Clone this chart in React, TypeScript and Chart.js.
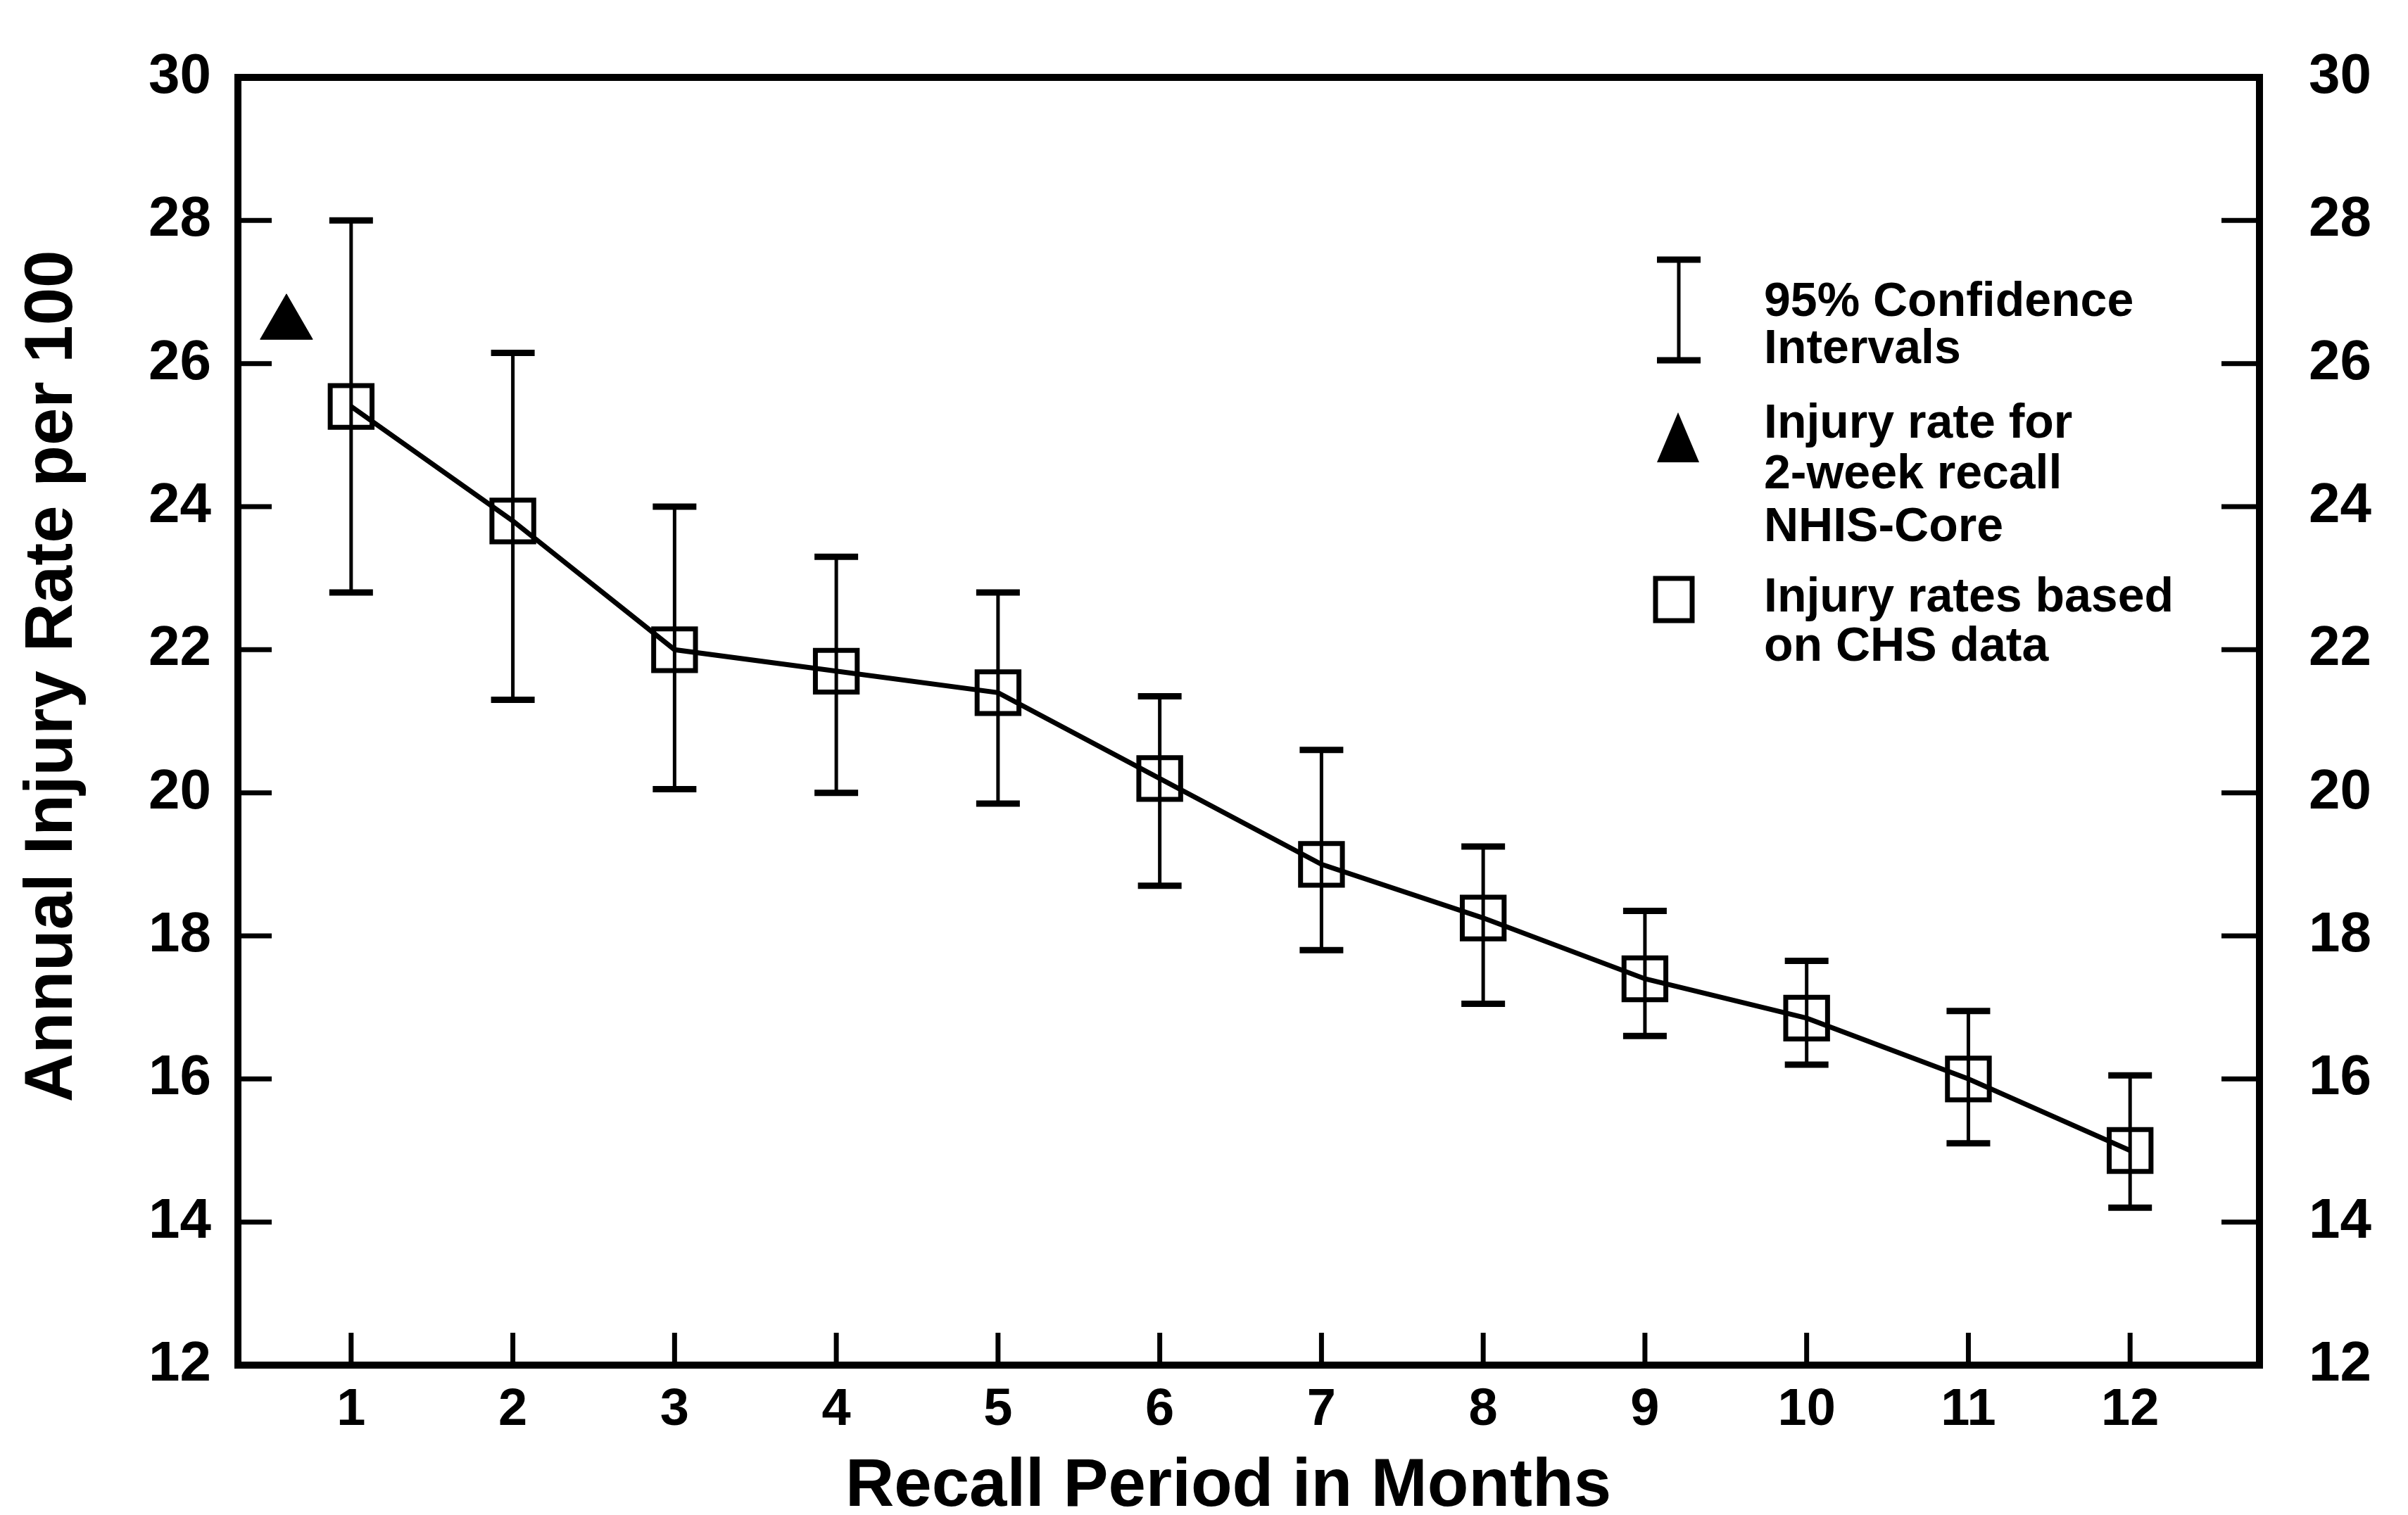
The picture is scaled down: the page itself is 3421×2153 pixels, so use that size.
import React, { useEffect, useRef } from 'react';
import { Chart, registerables } from 'chart.js';

Chart.register(...registerables);

// ---- Data ----
const MONTHS = [1, 2, 3, 4, 5, 6, 7, 8, 9, 10, 11, 12];
const CHS_RATE = [25.4, 23.8, 22.0, 21.7, 21.4, 20.2, 19.0, 18.25, 17.4, 16.85, 16.0, 15.0];
const CI_UPPER = [28.0, 26.15, 24.0, 23.3, 22.8, 21.35, 20.6, 19.25, 18.35, 17.65, 16.95, 16.05];
const CI_LOWER = [22.8, 21.3, 20.05, 20.0, 19.85, 18.7, 17.8, 17.05, 16.6, 16.2, 15.1, 14.2];
const NHIS_X = [0.6];
const NHIS_RATE = [26.55];
const X_TICKS = [1, 2, 3, 4, 5, 6, 7, 8, 9, 10, 11, 12];
const Y_TICKS = [12, 14, 16, 18, 20, 22, 24, 26, 28, 30];
const LEGEND_CI = ['95% Confidence', 'Intervals'];
const LEGEND_NHIS = ['Injury rate for', '2-week recall', 'NHIS-Core'];
const LEGEND_CHS = ['Injury rates based', 'on CHS data'];
const X_TITLE = 'Recall Period in Months';
const Y_TITLE = 'Annual Injury Rate per 100';

const W = 3421;
const H = 2153;
const AREA = { left: 338, right: 3210, top: 98, bottom: 1940 };
const FONT = "'Liberation Sans', Arial, Helvetica, sans-serif";

export default function App() {
  const ref = useRef<HTMLCanvasElement>(null);

  useEffect(() => {
    document.body.style.margin = '0';
    const canvas = ref.current!;

    const line = (ctx: CanvasRenderingContext2D, x1: number, y1: number, x2: number, y2: number) => {
      ctx.beginPath();
      ctx.moveTo(x1, y1);
      ctx.lineTo(x2, y2);
      ctx.stroke();
    };

    const overlay = {
      id: 'overlay',
      afterDatasetsDraw(chart: any) {
        const { ctx, chartArea: a, scales } = chart;
        const xs = scales.x;
        const ys = scales.y;
        ctx.save();
        ctx.strokeStyle = '#000';
        ctx.fillStyle = '#000';
        ctx.lineCap = 'butt';

        // error bars
        MONTHS.forEach((m, i) => {
          const px = xs.getPixelForValue(m);
          const pt = ys.getPixelForValue(CI_UPPER[i]);
          const pb = ys.getPixelForValue(CI_LOWER[i]);
          ctx.lineWidth = 5;
          line(ctx, px, pt, px, pb);
          ctx.lineWidth = 9;
          line(ctx, px - 31, pt, px + 31, pt);
          line(ctx, px - 31, pb, px + 31, pb);
        });

        // frame
        ctx.lineWidth = 10;
        ctx.strokeRect(a.left, a.top, a.right - a.left, a.bottom - a.top);

        // inward ticks
        ctx.lineWidth = 7;
        ys.ticks.forEach((t: any) => {
          if (t.value <= ys.min || t.value >= ys.max) return;
          const py = ys.getPixelForValue(t.value);
          line(ctx, a.left, py, a.left + 48, py);
          line(ctx, a.right - 54, py, a.right, py);
        });
        xs.ticks.forEach((t: any) => {
          const px = xs.getPixelForValue(t.value);
          line(ctx, px, a.bottom, px, a.bottom - 46);
        });

        // legend symbols
        ctx.lineWidth = 5;
        line(ctx, 2385, 369, 2385, 512);
        ctx.lineWidth = 9;
        line(ctx, 2354, 369, 2416, 369);
        line(ctx, 2354, 512, 2416, 512);

        ctx.beginPath();
        ctx.moveTo(2384, 586);
        ctx.lineTo(2414, 657);
        ctx.lineTo(2354, 657);
        ctx.closePath();
        ctx.fill();

        ctx.lineWidth = 7;
        ctx.strokeRect(2352, 822, 52, 60);

        // legend text
        ctx.font = `bold 68px ${FONT}`;
        ctx.textBaseline = 'alphabetic';
        ctx.textAlign = 'left';
        const tx = 2506;
        [449, 516].forEach((y, i) => ctx.fillText(LEGEND_CI[i], tx, y));
        [622, 694, 769].forEach((y, i) => ctx.fillText(LEGEND_NHIS[i], tx, y));
        [869, 939].forEach((y, i) => ctx.fillText(LEGEND_CHS[i], tx, y));

        // axis titles
        ctx.font = `bold 96px ${FONT}`;
        ctx.textAlign = 'center';
        ctx.textBaseline = 'middle';
        ctx.fillText(X_TITLE, 1745, 2114);
        ctx.translate(76, 961);
        ctx.rotate(-Math.PI / 2);
        ctx.fillText(Y_TITLE, 0, 0);

        ctx.restore();
      },
    };

    const tickFontY = { family: FONT, size: 80, weight: 'bold' as const };
    const tickFontX = { family: FONT, size: 74, weight: 'bold' as const };

    const chart = new Chart(canvas, {
      type: 'line',
      data: {
        datasets: [
          {
            label: 'CHS',
            data: MONTHS.map((m, i) => ({ x: m, y: CHS_RATE[i] })),
            borderColor: '#000',
            borderWidth: 7,
            pointStyle: 'rect',
            pointRadius: 42,
            pointBorderWidth: 7,
            pointBorderColor: '#000',
            pointBackgroundColor: 'rgba(0,0,0,0)',
            fill: false,
            tension: 0,
          },
          {
            label: 'NHIS',
            data: NHIS_X.map((x, i) => ({ x, y: NHIS_RATE[i] })),
            showLine: false,
            pointStyle: 'triangle',
            pointRadius: 43,
            pointBorderWidth: 1,
            pointBorderColor: '#000',
            pointBackgroundColor: '#000',
          },
        ],
      },
      options: {
        responsive: false,
        animation: false,
        devicePixelRatio: 1,
        layout: { padding: { top: AREA.top, left: 0, right: 0, bottom: 0 } },
        plugins: { legend: { display: false }, tooltip: { enabled: false } },
        scales: {
          x: {
            type: 'linear',
            position: 'bottom',
            min: 0.3,
            max: 12.8,
            grid: { display: false },
            border: { display: false },
            afterBuildTicks: (s: any) => {
              s.ticks = X_TICKS.map((v) => ({ value: v }));
            },
            afterFit: (s: any) => {
              s.height = H - AREA.bottom;
            },
            ticks: { font: tickFontX, color: '#000', padding: 12, maxRotation: 0, autoSkip: false },
          },
          y: {
            type: 'linear',
            position: 'left',
            min: 12,
            max: 30,
            grid: { display: false },
            border: { display: false },
            afterBuildTicks: (s: any) => {
              s.ticks = Y_TICKS.map((v) => ({ value: v }));
            },
            afterFit: (s: any) => {
              s.width = AREA.left;
            },
            ticks: { font: tickFontY, color: '#000', padding: 30, autoSkip: false },
          },
          y2: {
            type: 'linear',
            position: 'right',
            min: 12,
            max: 30,
            grid: { display: false },
            border: { display: false },
            afterBuildTicks: (s: any) => {
              s.ticks = Y_TICKS.map((v) => ({ value: v }));
            },
            afterFit: (s: any) => {
              s.width = W - AREA.right;
            },
            ticks: { font: tickFontY, color: '#000', padding: 62, autoSkip: false },
          },
        },
      },
      plugins: [overlay],
    } as any);

    return () => chart.destroy();
  }, []);

  return (
    <div style={{ position: 'absolute', left: 0, top: 0, width: W, height: H, background: '#fff' }}>
      <canvas ref={ref} width={W} height={H} style={{ display: 'block', width: W, height: H }} />
    </div>
  );
}
